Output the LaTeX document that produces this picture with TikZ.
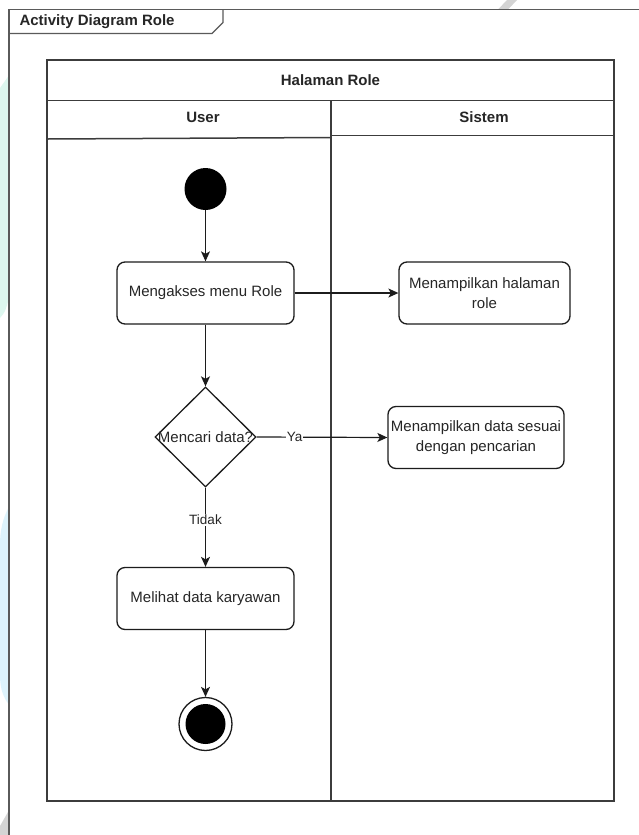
\documentclass[tikz,border=0pt]{standalone}
\usepackage{fontspec}
\setmainfont{Liberation Sans}
\usetikzlibrary{shapes.geometric,arrows.meta}

\definecolor{inkgray}{HTML}{262626}
\definecolor{linegray}{HTML}{1C1C1C}
\definecolor{framegray}{HTML}{5A5A5A}
\definecolor{poolgray}{HTML}{3C3C3C}
\definecolor{mintwash}{HTML}{DDF7EF}
\definecolor{skywash}{HTML}{DDF3FC}
\definecolor{slashgray}{HTML}{D4D4D4}

\begin{document}
\begin{tikzpicture}[x=1pt,y=-1pt,
  txt/.style={text=inkgray, font=\fontsize{15}{19.5}\selectfont},
  hdr/.style={text=inkgray, font=\bfseries\fontsize{15}{18}\selectfont},
  action/.style={txt, draw=linegray, line width=1.3pt, rounded corners=8pt,
    minimum height=62pt, inner sep=0pt, align=center},
  flow/.style={draw=linegray, line width=1.2pt,
    -{Stealth[length=10pt,width=9pt,inset=2.5pt]}},
  lbl/.style={text=inkgray, font=\fontsize{13.5}{16}\selectfont,
    fill=white, inner sep=1pt},
]
% canvas
\fill[white] (0,0) rectangle (639,835);
\useasboundingbox (0,0) rectangle (639,835);

% faint background wash along the page edges
\fill[mintwash] (0,88) -- (8.5,76) -- (8.5,300) .. controls (5,312) .. (0,318) -- cycle;
\fill[skywash] (8.5,508) .. controls (3,518) and (0,530) .. (0,545) -- (0,675)
  .. controls (0,690) and (4,698) .. (8.5,704) -- cycle;
\fill[slashgray] (498,9.5) -- (508,9.5) -- (517,0) -- (507,0) -- cycle;
\fill[slashgray] (0,826) -- (8,812) -- (8,835) -- (0,835) -- cycle;

% diagram frame with its name tab
\draw[framegray, line width=1.2pt] (9,835) -- (9,9.5) -- (639,9.5);
\draw[framegray, line width=1.2pt] (9,33.5) -- (212,33.5) -- (223,22.5) -- (223,9.5);
\node[hdr, anchor=west] (frametitle) at (16,22) {Activity Diagram Role};

% swimlane pool
\draw[poolgray, line width=1.5pt] (47,60) rectangle (614,801);
\draw[poolgray, line width=1.5pt] (47,100.5) -- (614,100.5);
\draw[poolgray, line width=1.5pt] (331,100.5) -- (331,801);
\draw[poolgray, line width=1.5pt] (48,139) -- (331,137.5);
\draw[poolgray, line width=1.5pt] (331,135.5) -- (614,135.5);
\node[hdr] (pooltitle) at (330.5,80.5) {Halaman Role};
\node[hdr] (userlane) at (203,117) {User};
\node[hdr] (systemlane) at (484,117) {Sistem};

% activity nodes
\node[circle, fill=black, minimum size=42pt, inner sep=0pt] (start) at (205.5,189) {};
\node[action, minimum width=177pt] (access) at (205.5,293) {Mengakses menu Role};
\node[action, minimum width=171pt] (showpage) at (484.5,293) {Menampilkan halaman\\role};
\node[diamond, draw=linegray, line width=1.3pt, minimum width=101pt,
  minimum height=100pt, inner sep=0pt] (search) at (205.5,437) {};
\node[txt] (searchtext) at (search.center) {Mencari data?};
\node[action, minimum width=176pt] (showresult) at (476,437.5) {Menampilkan data sesuai\\dengan pencarian};
\node[action, minimum width=177pt] (viewdata) at (205.5,598.5) {Melihat data karyawan};
\node[circle, draw=linegray, line width=1.3pt, minimum size=53pt, inner sep=0pt,
  path picture={\fill[black] (path picture bounding box.center) circle (20pt);}]
  (finish) at (205.5,724) {};

% control flows
\draw[flow] (start) -- (access);
\draw[flow] (access) -- (showpage);
\draw[flow] (access) -- (search);
\draw[flow] (search.east) -- node[lbl, pos=0.29] {Ya} (showresult.west);
\draw[flow] (search.south) -- node[lbl, pos=0.41] {Tidak} (viewdata.north);
\draw[flow] (viewdata) -- (finish);
\end{tikzpicture}
\end{document}
